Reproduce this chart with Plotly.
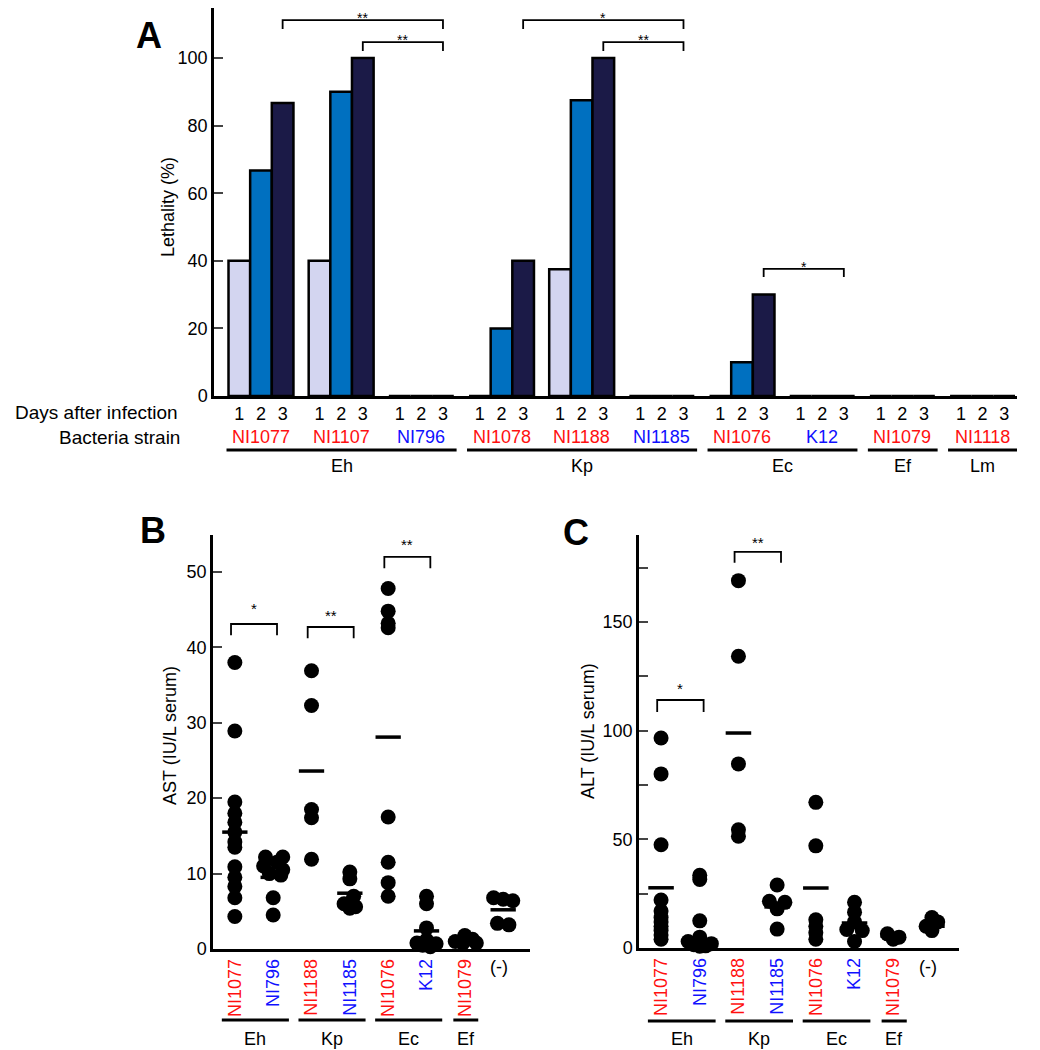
import plotly.graph_objects as go

# ---------------- DATA ----------------
days = ["1", "2", "3"]
strains_A = ["NI1077", "NI1107", "NI796", "NI1078", "NI1188", "NI1185",
             "NI1076", "K12", "NI1079", "NI1118"]
species_of_A = ["Eh", "Eh", "Eh", "Kp", "Kp", "Kp", "Ec", "Ec", "Ef", "Lm"]
lethality_day1 = [40, 40, 0, 0, 37.5, 0, 0, 0, 0, 0]
lethality_day2 = [66.7, 90, 0, 20, 87.5, 0, 10, 0, 0, 0]
lethality_day3 = [86.7, 100, 0, 40, 100, 0, 30, 0, 0, 0]
sig_A = [("NI1077", "NI796", "**"), ("NI1107", "NI796", "**"),
         ("NI1078", "NI1185", "*"), ("NI1188", "NI1185", "**"),
         ("NI1076", "K12", "*")]

cats_BC = ["NI1077", "NI796", "NI1188", "NI1185", "NI1076", "K12", "NI1079", "(-)"]
species_of_BC = ["Eh", "Eh", "Kp", "Kp", "Ec", "Ec", "Ef", ""]

ast_values = [
    [38.0, 28.9, 19.5, 18.0, 16.8, 15.5, 14.2, 13.5, 10.9, 9.5, 8.3, 6.8, 4.3],
    [12.2, 12.2, 11.5, 11.0, 10.5, 10.0, 9.8, 6.8, 4.5],
    [36.9, 32.3, 18.5, 17.4, 11.9],
    [10.2, 9.3, 7.0, 6.0, 5.6, 5.4],
    [47.8, 44.8, 43.2, 42.6, 17.5, 11.5, 8.8, 7.0],
    [7.0, 6.0, 2.8, 1.2, 0.8, 0.7, 0.5, 0.3],
    [1.8, 1.3, 1.0, 0.8, 0.8],
    [6.8, 6.6, 6.4, 3.4, 3.2],
]
ast_means = [15.5, 9.5, 23.6, 7.4, 28.1, 2.4, 1.1, 5.2]
sig_B = [("NI1077", "NI796", "*"), ("NI1188", "NI1185", "**"), ("NI1076", "K12", "**")]

alt_values = [
    [96.6, 80.1, 47.5, 22.1, 17.0, 14.0, 12.0, 10.0, 8.0, 6.0, 4.0],
    [33.5, 31.5, 12.5, 5.0, 3.0, 2.0, 1.5, 1.0, 0.8],
    [169.0, 134.2, 84.7, 54.4, 51.4],
    [29.0, 21.5, 21.0, 18.0, 8.7],
    [67.0, 47.0, 13.0, 10.0, 7.0, 4.0],
    [21.0, 16.5, 12.0, 8.5, 8.0, 3.0],
    [6.5, 5.0, 4.0],
    [14.0, 12.0, 10.0, 8.0],
]
alt_means = [27.7, 3.0, 98.9, 18.9, 27.6, 11.5, 5.5, 10.0]
sig_C = [("NI1077", "NI796", "*"), ("NI1188", "NI1185", "**")]

# ---------------- STYLE / LAYOUT ----------------
W, H = 1040, 1050
PAGE_OFF = 8  # browser default body margin
FONT = "Arial, Liberation Sans, sans-serif"
RED, BLUE = "#ff1010", "#1010ff"
blue_strains = {"NI796", "NI1185", "K12"}
day_colors = ["#d3d5f0", "#0070c0", "#1b1a47"]


def sc(name):
    if name in blue_strains:
        return BLUE
    if name.startswith("("):
        return "black"
    return RED


def pxx(x):
    return (x - PAGE_OFF) / W


def pyy(y):
    return 1 - (y - PAGE_OFF) / H


fig = go.Figure()

# ---------- Panel A ----------
offs = [-0.27, 0, 0.27]
for d, vals in enumerate([lethality_day1, lethality_day2, lethality_day3]):
    fig.add_trace(go.Bar(
        x=list(range(len(strains_A))), y=vals, name="Day " + days[d],
        marker=dict(color=day_colors[d], line=dict(color="black", width=2.5)),
        xaxis="x", yaxis="y", showlegend=False, width=0.27, offset=offs[d] - 0.135))

annotations = []
shapes = []

for i, s in enumerate(strains_A):
    annotations.append(dict(x=i, y=pyy(437), xref="x", yref="paper", text=s,
                            xanchor="center", yanchor="middle",
                            showarrow=False, font=dict(size=18, color=sc(s), family=FONT)))


def species_groups(species_list):
    groups = []
    for i, sp in enumerate(species_list):
        if sp == "":
            continue
        if groups and groups[-1][0] == sp:
            groups[-1][2] = i
        else:
            groups.append([sp, i, i])
    return groups


for sp, a, b in species_groups(species_of_A):
    x0, x1 = a - 0.43, b + 0.44
    shapes.append(dict(type="line", xref="x", yref="paper", x0=x0, x1=x1,
                       y0=pyy(450), y1=pyy(450), line=dict(color="black", width=3)))
    annotations.append(dict(x=(x0 + x1) / 2, y=pyy(466), xref="x", yref="paper", text=sp,
                            xanchor="center", yanchor="middle",
                            showarrow=False, font=dict(size=18, color="black", family=FONT)))

annotations.append(dict(x=pxx(180), y=pyy(413), xref="paper", yref="paper", xanchor="right",
                        yanchor="middle", text="Days after infection", showarrow=False,
                        font=dict(size=19, color="black", family=FONT)))
annotations.append(dict(x=pxx(182), y=pyy(437), xref="paper", yref="paper", xanchor="right",
                        yanchor="middle", text="Bacteria strain", showarrow=False,
                        font=dict(size=19, color="black", family=FONT)))

sigA_levels = [(111.2, 108.6), (104.7, 102.1), (111.2, 108.6), (104.7, 102.1), (37.6, 35.2)]
for (s1, s2, txt), (top, bot) in zip(sig_A, sigA_levels):
    x0 = strains_A.index(s1) + 0.27
    x1 = strains_A.index(s2) + 0.27
    shapes.append(dict(type="path", xref="x", yref="y",
                       path=f"M {x0},{bot} L {x0},{top} L {x1},{top} L {x1},{bot}",
                       line=dict(color="black", width=1.8)))
    annotations.append(dict(x=(x0 + x1) / 2, y=top, xref="x", yref="y", text=txt,
                            xanchor="center", yanchor="top", showarrow=False, yshift=12,
                            font=dict(size=14, color="black", family=FONT)))

# ---------- Panels B, C ----------
jit_B = [
    [0] * 13,
    [-0.2, 0.25, 0.1, -0.25, 0.25, -0.1, 0.2, 0, 0],
    [0] * 5,
    [0, 0, 0.1, -0.15, 0.15, 0],
    [0] * 8,
    [0, 0, 0, 0, -0.25, 0.25, -0.1, 0.1],
    [0, 0.2, -0.25, 0.3, -0.05],
    [-0.25, 0, 0.25, -0.15, 0.15],
]
jit_C = [
    [0] * 11,
    [0, 0, 0, 0, -0.3, 0.3, -0.15, 0.15, 0],
    [0] * 5,
    [0, -0.2, 0.2, 0, 0],
    [0] * 6,
    [0, 0, 0, -0.2, 0.2, 0],
    [-0.15, 0.15, 0],
    [0, 0.15, -0.15, 0],
]


def add_dots(values, means, jit, xa, ya):
    xs, ys = [], []
    for i, vals in enumerate(values):
        for v, j in zip(vals, jit[i]):
            xs.append(i + j)
            ys.append(v)
    fig.add_trace(go.Scatter(x=xs, y=ys, mode="markers", xaxis=xa, yaxis=ya,
                             marker=dict(size=15, color="black"), showlegend=False,
                             cliponaxis=False))
    mx, my = [], []
    for i, m in enumerate(means):
        mx += [i - 0.33, i + 0.33, None]
        my += [m, m, None]
    fig.add_trace(go.Scatter(x=mx, y=my, mode="lines", xaxis=xa, yaxis=ya,
                             line=dict(color="black", width=3.5), showlegend=False))


add_dots(ast_values, ast_means, jit_B, "x2", "y2")
add_dots(alt_values, alt_means, jit_C, "x3", "y3")


def add_sig(sigs, levels, xa, ya):
    for (s1, s2, txt), (top, bot, st) in zip(sigs, levels):
        x0 = cats_BC.index(s1) - 0.1
        x1 = cats_BC.index(s2) + 0.1
        shapes.append(dict(type="path", xref=xa, yref=ya,
                           path=f"M {x0},{bot} L {x0},{top} L {x1},{top} L {x1},{bot}",
                           line=dict(color="black", width=1.8)))
        annotations.append(dict(x=(x0 + x1) / 2, y=st, xref=xa, yref=ya, text=txt,
                                xanchor="center", yanchor="middle",
                                showarrow=False, font=dict(size=15, color="black", family=FONT)))


add_sig(sig_B, [(43.1, 41.6, 45.2), (42.7, 41.2, 44.2), (52.0, 50.5, 53.6)], "x2", "y2")
add_sig(sig_C, [(114.1, 108.6, 119.5), (182.2, 177.2, 186.6)], "x3", "y3")


def species_lines(xa, line_y, name_y):
    for sp, a, b in species_groups(species_of_BC):
        if a == b:
            x0, x1 = a - 0.3, b + 0.35
        else:
            x0, x1 = a - 0.34, b + 0.41
        shapes.append(dict(type="line", xref=xa, yref="paper", x0=x0, x1=x1,
                           y0=pyy(line_y), y1=pyy(line_y), line=dict(color="black", width=3)))
        annotations.append(dict(x=(x0 + x1) / 2, y=pyy(name_y), xref=xa, yref="paper", text=sp,
                                xanchor="center", yanchor="middle",
                                showarrow=False, font=dict(size=18, color="black", family=FONT)))


species_lines("x2", 1020, 1039)
species_lines("x3", 1021, 1039)

# horizontal "(-)" control labels
for xa in ["x2", "x3"]:
    annotations.append(dict(x=len(cats_BC) - 1, y=pyy(967), xref=xa, yref="paper",
                            text=cats_BC[-1], xanchor="center", yanchor="middle",
                            xshift=-4, showarrow=False,
                            font=dict(size=18, color="black", family=FONT)))

for (x, y, t) in [(168, 207, "Lethality (%)"), (170, 736, "AST (IU/L serum)"),
                  (588, 731, "ALT (IU/L serum)")]:
    annotations.append(dict(x=pxx(x), y=pyy(y), xref="paper", yref="paper", text=t,
                            textangle=-90, showarrow=False, xanchor="center", yanchor="middle",
                            font=dict(size=18, color="black", family=FONT)))
for (x, y, t) in [(149, 36, "A"), (153, 530, "B"), (576, 532, "C")]:
    annotations.append(dict(x=pxx(x), y=pyy(y), xref="paper", yref="paper", text=f"<b>{t}</b>",
                            xanchor="center", yanchor="middle",
                            showarrow=False, font=dict(size=36, color="black", family=FONT)))

axis_common = dict(showline=True, linecolor="black", linewidth=2.5, showgrid=False,
                   zeroline=False, automargin=False,
                   tickfont=dict(size=18, color="black", family=FONT))

bar_ticks = [i + o for i in range(len(strains_A)) for o in offs]
bc_ticktext = [f'<span style="color:{sc(c)}">{c}</span>' for c in cats_BC[:-1]]

A_top_val = (396 - 8) / 3.38

fig.update_layout(
    width=W, height=H, margin=dict(l=0, r=0, t=0, b=0, autoexpand=False),
    plot_bgcolor="white", paper_bgcolor="white", barmode="overlay",
    font=dict(family=FONT, color="black"),
    xaxis=dict(**axis_common, domain=[pxx(214), pxx(1017)], range=[-0.586, 9.43],
               tickvals=bar_ticks, ticktext=days * len(strains_A), ticks="",
               anchor="y"),
    yaxis=dict(**axis_common, domain=[pyy(396), 1.0], range=[0, A_top_val],
               tickvals=[0, 20, 40, 60, 80, 100], ticks="inside", ticklen=9,
               tickwidth=2, anchor="x"),
    xaxis2=dict(**axis_common, domain=[pxx(213), pxx(530)], range=[-0.57, 7.70],
                tickvals=list(range(len(cats_BC) - 1)), ticktext=bc_ticktext, tickangle=-90,
                ticks="", anchor="y2"),
    yaxis2=dict(**axis_common, domain=[pyy(949), pyy(535)], range=[0, 54.9],
                tickvals=[0, 10, 20, 30, 40, 50], ticks="inside", ticklen=9,
                tickwidth=2, anchor="x2"),
    xaxis3=dict(**axis_common, domain=[pxx(639), pxx(959)], range=[-0.57, 7.70],
                tickvals=list(range(len(cats_BC) - 1)), ticktext=bc_ticktext, tickangle=-90,
                ticks="", anchor="y3"),
    yaxis3=dict(**axis_common, domain=[pyy(948), pyy(535)], range=[0, 190],
                tickvals=[0, 25, 50, 75, 100, 125, 150, 175],
                ticktext=["0", "", "50", "", "100", "", "150", ""],
                ticks="inside", ticklen=9, tickwidth=2, anchor="x3"),
    annotations=annotations, shapes=shapes,
)

fig.write_html("out.html")
